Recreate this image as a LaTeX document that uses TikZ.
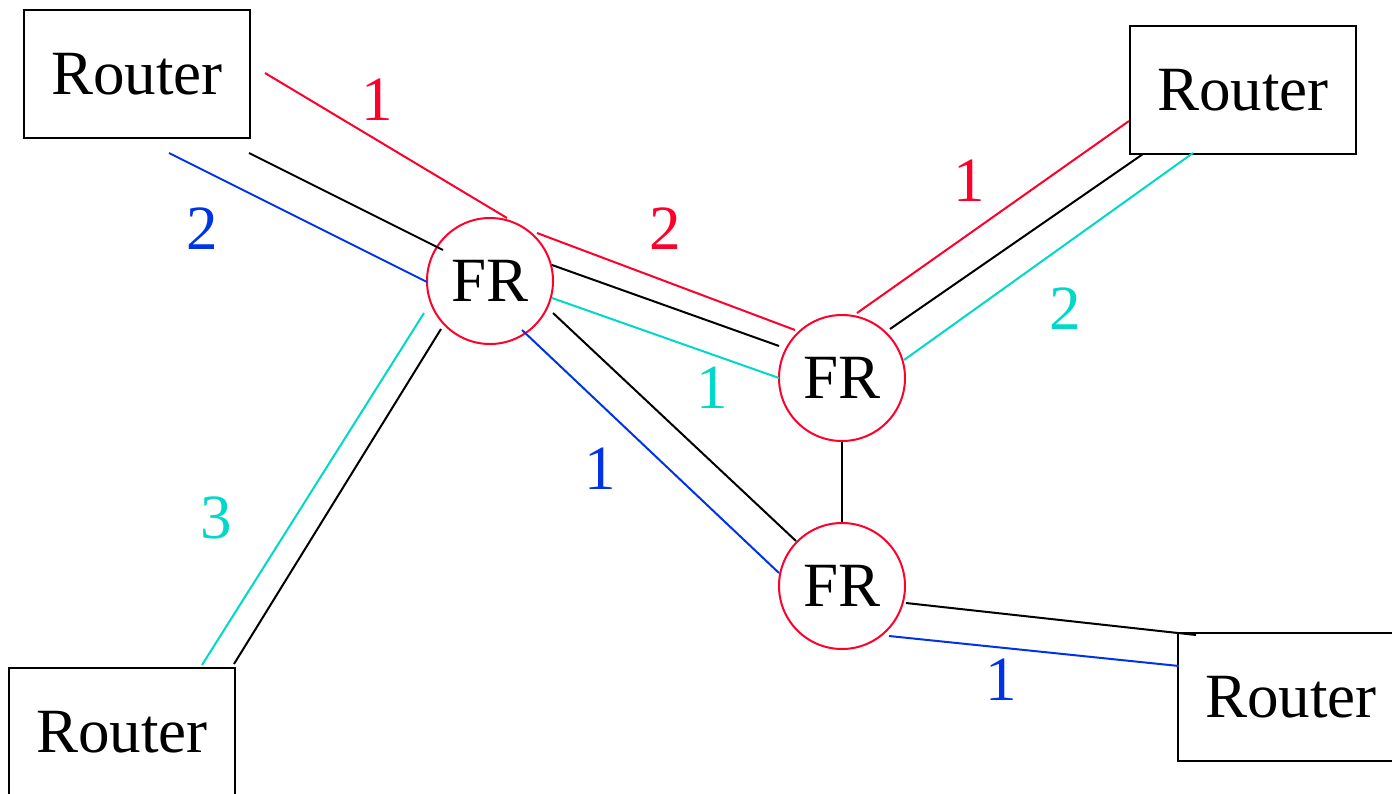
\documentclass[tikz,border=0pt]{standalone}
\usepackage{fontspec}
\setmainfont{Liberation Serif}
\usetikzlibrary{calc}
\definecolor{fred}{RGB}{255,0,42}
\definecolor{fblue}{RGB}{0,51,230}
\definecolor{fcyan}{RGB}{0,216,200}
\begin{document}
\begin{tikzpicture}[x=1pt,y=-1pt,line width=2pt,
  router/.style={draw=black,line width=2.5pt,minimum width=226pt,minimum height=128pt,inner sep=0pt,font=\fontsize{63}{70}\selectfont},
  frnode/.style={circle,draw=fred,line width=2pt,minimum size=126pt,inner sep=0pt,font=\fontsize{63}{70}\selectfont},
  lbl/.style={inner sep=0pt,font=\fontsize{63}{70}\selectfont},
  redl/.style={draw=fred},
  bluel/.style={draw=fblue},
  cyanl/.style={draw=fcyan},
  blackl/.style={draw=black}]
\useasboundingbox (0,0) rectangle (1392,793);
\clip (0,0) rectangle (1392,793);
% nodes
\node[router] (rtl) at (137,74) {Router};
\node[router] (rtr) at (1243,90) {Router};
\node[router] (rbl) at (122,732) {Router};
\node[router] (rbr) at (1291,697) {Router};
\node[frnode] (FR1) at (490,281) {FR};
\node[frnode] (FR2) at (842,378) {FR};
\node[frnode] (FR3) at (842,586) {FR};
% red lines
\draw[redl] ($(rtl)+(128,-1)$) -- ($(FR1)+(17,-63)$);
\draw[redl] ($(FR1)+(47,-48)$) -- ($(FR2)+(-47,-48)$);
\draw[redl] ($(FR2)+(15,-65)$) -- ($(rtr)+(-114,31)$);
% black lines
\draw[blackl] ($(rtl)+(112,79)$) -- ($(FR1)+(-47,-31)$);
\draw[blackl] ($(FR1)+(-49,48)$) -- ($(rbl)+(112,-68)$);
\draw[blackl] ($(FR1)+(62,-16)$) -- ($(FR2)+(-63,-32)$);
\draw[blackl] ($(FR1)+(63,32)$) -- ($(FR3)+(-46,-45)$);
\draw[blackl] ($(FR2)+(48,-49)$) -- ($(rtr)+(-100,64)$);
\draw[blackl] (FR2.south) -- (FR3.north);
\draw[blackl] ($(FR3)+(64,17)$) -- ($(rbr)+(-95,-62)$);
% blue lines
\draw[bluel] ($(rtl)+(32,79)$) -- ($(FR1)+(-63,1)$);
\draw[bluel] ($(FR1)+(32,49)$) -- ($(FR3)+(-63,-13)$);
\draw[bluel] ($(FR3)+(47,50)$) -- ($(rbr)+(-112,-31)$);
% cyan lines
\draw[cyanl] ($(FR1)+(62,17)$) -- ($(FR2)+(-63,0)$);
\draw[cyanl] ($(FR2)+(62,-18)$) -- ($(rtr)+(-50,63)$);
\draw[cyanl] ($(FR1)+(-66,32)$) -- ($(rbl)+(80,-67)$);
% labels
\node[lbl,text=fred] (l1) at (377,100) {1};
\node[lbl,text=fblue] (l2) at (202,229) {2};
\node[lbl,text=fred] (l3) at (665,229) {2};
\node[lbl,text=fred] (l4) at (969,181) {1};
\node[lbl,text=fcyan] (l5) at (1065,309) {2};
\node[lbl,text=fcyan] (l6) at (712,388) {1};
\node[lbl,text=fblue] (l7) at (600,469) {1};
\node[lbl,text=fcyan] (l8) at (216,518) {3};
\node[lbl,text=fblue] (l9) at (1001,680) {1};
\end{tikzpicture}
\end{document}
